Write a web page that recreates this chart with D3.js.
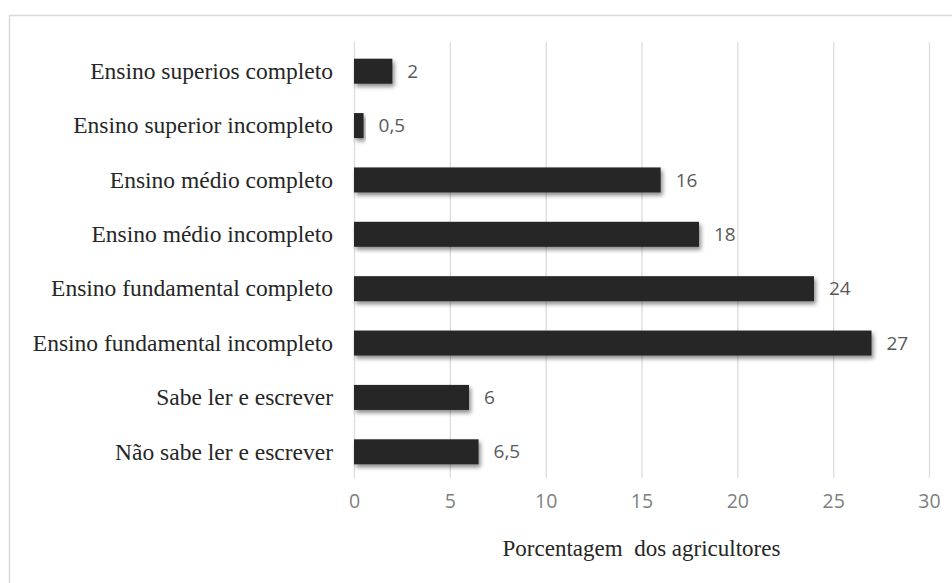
<!DOCTYPE html>
<html>
<head>
<meta charset="utf-8">
<script src="https://cdn.jsdelivr.net/npm/d3@7"></script>
<style>
  html, body { margin: 0; padding: 0; background: #fff; }
  svg { display: block; }
</style>
</head>
<body>
<svg id="chart" width="952" height="583"></svg>
<script>
const categories = [
  "Ensino superios completo",
  "Ensino superior incompleto",
  "Ensino médio completo",
  "Ensino médio incompleto",
  "Ensino fundamental completo",
  "Ensino fundamental incompleto",
  "Sabe ler e escrever",
  "Não sabe ler e escrever"
];
const values = [2, 0.5, 16, 18, 24, 27, 6, 6.5];
const xTicks = [0, 5, 10, 15, 20, 25, 30];
const xTitle = "Porcentagem  dos agricultores";

const svg = d3.select("#chart");

// outer frame
svg.append("rect")
  .attr("x", 9.5).attr("y", 15.5)
  .attr("width", 960).attr("height", 600)
  .attr("fill", "#fff").attr("stroke", "#d9d9d9").attr("stroke-width", 1.5);

const defs = svg.append("defs");
const f = defs.append("filter").attr("id", "shadow")
  .attr("x", "-20%").attr("y", "-30%").attr("width", "140%").attr("height", "180%");
f.append("feDropShadow")
  .attr("dx", 2).attr("dy", 3).attr("stdDeviation", 2.2)
  .attr("flood-color", "#000").attr("flood-opacity", 0.45);

const x = d3.scaleLinear().domain([0, 30]).range([354, 929]);
const y = d3.scaleBand().domain(categories).range([44, 479])
  .paddingInner(0.54).paddingOuter(0.27);

const gridTop = 42, gridBottom = 478;

// gridlines
svg.append("g").selectAll("line").data(xTicks).join("line")
  .attr("x1", d => x(d) + 0.5).attr("x2", d => x(d) + 0.5)
  .attr("y1", gridTop).attr("y2", gridBottom)
  .attr("stroke", "#dcdcdc").attr("stroke-width", 1.3);

// x axis tick labels
const xAxis = d3.axisBottom(x).tickValues(xTicks).tickSize(0).tickPadding(0)
  .tickFormat(d3.format("d"));
const gx = svg.append("g").attr("transform", `translate(0, ${gridBottom + 24})`).call(xAxis);
gx.select(".domain").remove();
gx.selectAll("text")
  .attr("fill", "#7f7f7f")
  .attr("font-family", "'Open Sans', sans-serif")
  .attr("font-size", 19.5)
  .attr("dy", "0.32em")
  .attr("y", 0);

// bars
svg.append("g").selectAll("rect").data(values).join("rect")
  .attr("x", x(0))
  .attr("y", (d, i) => y(categories[i]))
  .attr("width", d => x(d) - x(0))
  .attr("height", y.bandwidth())
  .attr("fill", "#262626")
  .attr("filter", "url(#shadow)");

// value labels
const fmt = d => String(d).replace(".", ",");
svg.append("g").selectAll("text").data(values).join("text")
  .attr("x", d => x(d) + 15)
  .attr("y", (d, i) => y(categories[i]) + y.bandwidth() / 2)
  .attr("dy", "0.35em")
  .attr("fill", "#595959")
  .attr("font-family", "'Open Sans', sans-serif")
  .attr("font-size", 19)
  .text(fmt);

// category labels
const yAxis = d3.axisLeft(y).tickSize(0).tickPadding(0);
const gy = svg.append("g").attr("transform", "translate(333,0)").call(yAxis);
gy.select(".domain").remove();
gy.selectAll("text")
  .attr("fill", "#262626")
  .attr("font-family", "'Liberation Serif', 'Times New Roman', serif")
  .attr("font-size", 23.5)
  .attr("dy", "0.33em");

// axis title
svg.append("text")
  .attr("x", (x(0) + x(30)) / 2)
  .attr("y", 556)
  .attr("text-anchor", "middle")
  .attr("fill", "#262626")
  .attr("font-family", "'Liberation Serif', 'Times New Roman', serif")
  .attr("font-size", 23)
  .attr("xml:space", "preserve")
  .style("white-space", "pre")
  .text(xTitle);
</script>
</body>
</html>
